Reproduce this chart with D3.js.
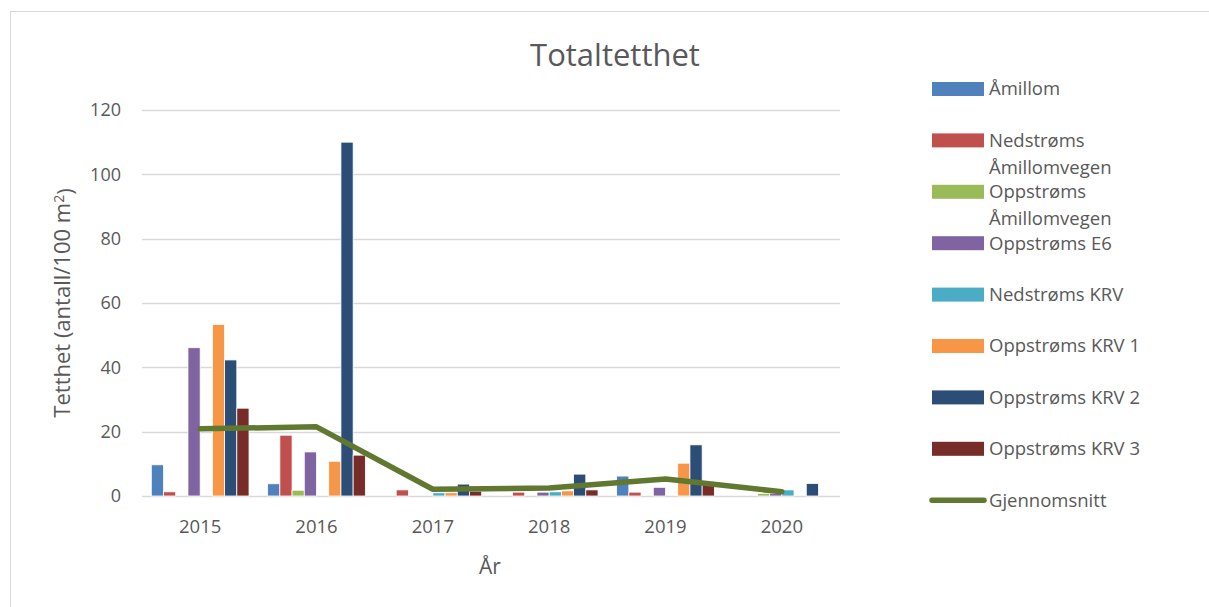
<!DOCTYPE html>
<html>
<head>
<meta charset="utf-8">
<script src="https://cdn.jsdelivr.net/npm/d3@7"></script>
<style>
  body { margin: 0; background: #ffffff; }
  text { font-family: "Open Sans", "Noto Sans", sans-serif; fill: #595959; }
</style>
</head>
<body>
<svg id="chart" width="1209" height="607"></svg>
<script>

// chart data
var years = ["2015", "2016", "2017", "2018", "2019", "2020"];

var seriesNames = ["Åmillom", "Nedstrøms Åmillomvegen", "Oppstrøms Åmillomvegen",
  "Oppstrøms E6", "Nedstrøms KRV", "Oppstrøms KRV 1", "Oppstrøms KRV 2", "Oppstrøms KRV 3"];

var amillom        = [9.7, 3.8, null, null, 6.2, null];
var nedAmillomveg  = [1.3, 18.9, 1.9, 1.2, 1.2, null];
var oppAmillomveg  = [null, 1.8, null, null, null, 0.8];
var oppE6          = [46.1, 13.7, null, 1.2, 2.7, 0.8];
var nedKRV         = [null, null, 1.0, 1.3, null, 1.9];
var oppKRV1        = [53.3, 10.8, 1.0, 1.6, 10.2, null];
var oppKRV2        = [42.3, 110, 3.7, 6.8, 15.9, 3.9];
var oppKRV3        = [27.3, 12.7, 1.5, 1.9, 3.5, null];

var gjennomsnitt   = [20.9, 21.5, 2.1, 2.5, 5.3, 1.3];

var yTicks = [0, 20, 40, 60, 80, 100, 120];

var seriesValues = [amillom, nedAmillomveg, oppAmillomveg, oppE6, nedKRV, oppKRV1, oppKRV2, oppKRV3];

var colors = ["#4F81BD", "#C0504D", "#9BBB59", "#8064A2", "#4BACC6", "#F79646", "#2C4D75", "#772C2A"];
var lineColor = "#617831";
var gridColor = "#d9d9d9";

var svg = d3.select("#chart");

// outer chart frame
svg.append("rect")
    .attr("x", 10.5)
    .attr("y", 11.5)
    .attr("width", 1220)
    .attr("height", 620)
    .attr("fill", "none")
    .attr("stroke", gridColor)
    .attr("stroke-width", 1);

var plot = { left: 142, right: 840, top: 110, bottom: 496 };

var y = d3.scaleLinear()
    .domain([0, 120])
    .range([plot.bottom, plot.top]);

var x0 = d3.scaleBand()
    .domain(years)
    .range([plot.left, plot.right])
    .paddingInner(0.16)
    .paddingOuter(0.08);

var x1 = d3.scaleBand()
    .domain(d3.range(seriesNames.length))
    .range([0, x0.bandwidth()]);

// gridlines
svg.append("g")
    .selectAll("line")
    .data(yTicks)
    .enter()
    .append("line")
        .attr("x1", plot.left)
        .attr("x2", plot.right)
        .attr("y1", function(d){ return Math.round(y(d)) + 0.5 })
        .attr("y2", function(d){ return Math.round(y(d)) + 0.5 })
        .attr("stroke", gridColor)
        .attr("stroke-width", function(d){ return d == 0 ? 1.6 : 1.3 });

// y tick labels
svg.append("g")
    .selectAll("text")
    .data(yTicks)
    .enter()
    .append("text")
        .attr("x", 121)
        .attr("y", function(d){ return y(d) })
        .attr("dy", "0.35em")
        .attr("text-anchor", "end")
        .attr("font-size", "18px")
        .text(function(d){ return d });

// x tick labels
svg.append("g")
    .selectAll("text")
    .data(years)
    .enter()
    .append("text")
        .attr("x", function(d){ return x0(d) + x0.bandwidth() / 2 })
        .attr("y", 527)
        .attr("dy", "0.35em")
        .attr("text-anchor", "middle")
        .attr("font-size", "18.5px")
        .text(function(d){ return d });

// bars
var barData = [];
seriesValues.forEach(function(vals, s) {
    vals.forEach(function(v, i) {
        if (v != null) barData.push({ s: s, year: years[i], value: v });
    });
});

svg.append("g")
    .selectAll("rect")
    .data(barData)
    .enter()
    .append("rect")
        .attr("x", function(d){ return x0(d.year) + x1(d.s) })
        .attr("y", function(d){ return y(d.value) })
        .attr("width", x1.bandwidth())
        .attr("height", function(d){ return y(0) - y(d.value) })
        .attr("fill", function(d){ return colors[d.s] })
        .attr("stroke", "#ffffff")
        .attr("stroke-width", 0.8);

// average line
var line = d3.line()
    .x(function(d, i){ return x0(years[i]) + x0.bandwidth() / 2 })
    .y(function(d){ return y(d) });

svg.append("path")
    .datum(gjennomsnitt)
    .attr("d", line)
    .attr("fill", "none")
    .attr("stroke", lineColor)
    .attr("stroke-width", 5.5)
    .attr("stroke-linejoin", "round")
    .attr("stroke-linecap", "round");

// title and axis titles
svg.append("text")
    .attr("x", 615)
    .attr("y", 55)
    .attr("dy", "0.35em")
    .attr("text-anchor", "middle")
    .attr("font-size", "31px")
    .text("Totaltetthet");

svg.append("text")
    .attr("x", 490)
    .attr("y", 567)
    .attr("dy", "0.35em")
    .attr("text-anchor", "middle")
    .attr("font-size", "21px")
    .text("År");

var yTitle = svg.append("text")
    .attr("transform", "translate(62,303) rotate(-90)")
    .attr("dy", "0.35em")
    .attr("text-anchor", "middle")
    .attr("font-size", "22px");
yTitle.append("tspan").text("Tetthet (antall/100 m");
yTitle.append("tspan").attr("dy", "-0.4em").attr("font-size", "14px").text("2");
yTitle.append("tspan").attr("dy", "0.4em").text(")");

// legend
var legendTop = 89;
var legendStep = 51.4;
var legendNames = seriesNames.concat(["Gjennomsnitt"]);

var legend = svg.append("g")
    .selectAll("g")
    .data(legendNames)
    .enter()
    .append("g")
        .attr("transform", function(d, i){ return "translate(0," + (legendTop + i * legendStep) + ")" });

legend.each(function(d, i) {
    var g = d3.select(this);
    if (i < seriesNames.length) {
        g.append("rect")
            .attr("x", 932)
            .attr("y", -7)
            .attr("width", 52)
            .attr("height", 14)
            .attr("fill", colors[i]);
    } else {
        g.append("line")
            .attr("x1", 932)
            .attr("x2", 984)
            .attr("y1", 0)
            .attr("y2", 0)
            .attr("stroke", lineColor)
            .attr("stroke-width", 5.5)
            .attr("stroke-linecap", "round");
    }
    var t = g.append("text")
        .attr("x", 989)
        .attr("y", 0)
        .attr("dy", "0.35em")
        .attr("font-size", "18.5px")
        .text(d);
    wrapLegend(t, 170);
});

function wrapLegend(text, width) {
    if (text.node().getComputedTextLength() <= width) return;
    var words = text.text().split(/\s+/);
    text.text(null);
    var first = words.slice(0, words.length - 1).join(" ");
    var last = words[words.length - 1];
    text.append("tspan").attr("x", 989).attr("dy", "0.35em").text(first);
    text.append("tspan").attr("x", 989).attr("dy", "1.45em").text(last);
    text.attr("dy", null);
}

</script>
</body>
</html>
